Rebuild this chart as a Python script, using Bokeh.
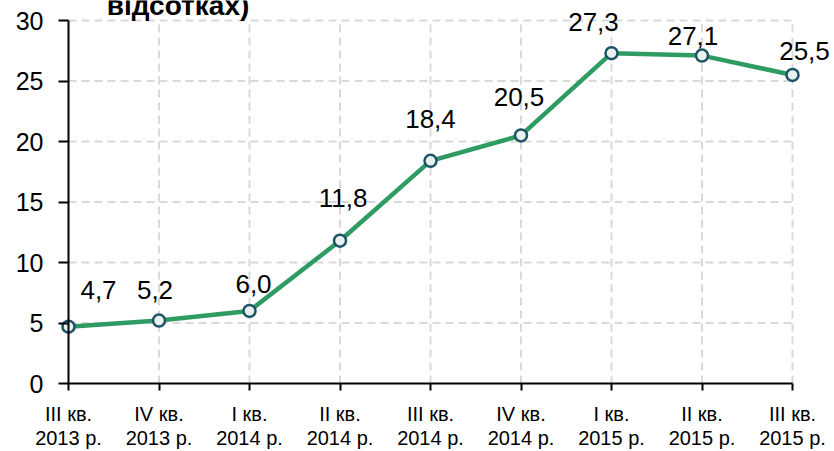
from bokeh.plotting import figure
from bokeh.models import LinearAxis, FixedTicker, Range1d, ColumnDataSource
from bokeh.core.properties import value
from bokeh.embed import file_html
from bokeh.resources import INLINE

# ---- data ----
quarters = ["III кв.\n2013 р.", "IV кв.\n2013 р.", "I кв.\n2014 р.", "II кв.\n2014 р.",
            "III кв.\n2014 р.", "IV кв.\n2014 р.", "I кв.\n2015 р.", "II кв.\n2015 р.",
            "III кв.\n2015 р."]
values = [4.7, 5.2, 6.0, 11.8, 18.4, 20.5, 27.3, 27.1, 25.5]
value_labels = ["4,7", "5,2", "6,0", "11,8", "18,4", "20,5", "27,3", "27,1", "25,5"]
y_ticks = [0, 5, 10, 15, 20, 25, 30]
title_text = "відсотках)"

# label nudges (pixels) relative to each point
label_dx = [30, -4, 4, 3, 0, -2, -18, -9, 12]
label_dy = [-37, -31, -27, -43, -42, -38, -31, -20, -24]

# ---- layout ----
W, H = 834, 451
PX_X, X0 = 90.5, 68
PX_Y, Y0 = 12.1, 383
FONT = "Liberation Sans"

xs = list(range(len(values)))
n = len(values) - 1

p = figure(width=W, height=H,
           x_range=Range1d(-X0 / PX_X, n + (W - X0 - n * PX_X) / PX_X),
           y_range=Range1d(-(H - Y0) / PX_Y, Y0 / PX_Y),
           output_backend="svg", toolbar_location=None,
           x_axis_location=None, y_axis_location=None,
           min_border=0, outline_line_color=None)
p.grid.visible = False
p.background_fill_color = "white"
p.border_fill_color = "white"

# grid lines
hy = y_ticks[1:]
p.segment(x0=[0] * len(hy), y0=hy, x1=[n] * len(hy), y1=hy,
          line_color="#d9d9d9", line_width=2, line_dash="8 5", level="underlay")
vx = xs[1:]
p.segment(x0=vx, y0=[0] * len(vx), x1=vx, y1=[y_ticks[-1]] * len(vx),
          line_color="#d9d9d9", line_width=2, line_dash="8 5", level="underlay")

# axes
yaxis = LinearAxis(fixed_location=0, bounds=(y_ticks[0], y_ticks[-1]),
                   ticker=FixedTicker(ticks=y_ticks))
yaxis.axis_line_width = 2
yaxis.axis_line_color = "black"
yaxis.major_tick_line_width = 2
yaxis.major_tick_out = 10
yaxis.major_tick_in = 0
yaxis.minor_tick_out = 0
yaxis.minor_tick_in = 0
yaxis.major_label_standoff = 15
yaxis.major_label_text_font = FONT
yaxis.major_label_text_font_size = "25px"
yaxis.major_label_text_color = "black"
p.add_layout(yaxis, "left")

xaxis = LinearAxis(fixed_location=0, bounds=(0, n),
                   ticker=FixedTicker(ticks=xs),
                   major_label_overrides={i: q for i, q in enumerate(quarters)})
xaxis.axis_line_width = 2
xaxis.axis_line_color = "black"
xaxis.major_tick_line_width = 2
xaxis.major_tick_out = 7
xaxis.major_tick_in = 0
xaxis.minor_tick_out = 0
xaxis.minor_tick_in = 0
xaxis.major_label_standoff = 12
xaxis.major_label_text_font = FONT
xaxis.major_label_text_font_size = "20px"
xaxis.major_label_text_color = "black"
xaxis.major_label_text_line_height = 1.1
p.add_layout(xaxis, "below")

src = ColumnDataSource(dict(x=xs, y=values, lab=value_labels, dx=label_dx, dy=label_dy))

p.line("x", "y", source=src, line_color="#2e9b63", line_width=4.5)
p.scatter("x", "y", source=src, size=12, fill_color="#e8f1ec",
          line_color="#1e5468", line_width=2.5)
p.text("x", "y", text="lab", source=src, x_offset="dx", y_offset="dy",
       text_align="center", text_baseline="middle",
       text_font=value(FONT), text_font_size="26px", text_color="black")

# title fragment (its upper line is cut off in the original)
p.text(x=[(177.5 - X0) / PX_X], y=[(Y0 - 5) / PX_Y], text=[title_text],
       text_align="center", text_baseline="alphabetic",
       text_font=value(FONT), text_font_size="28px", text_font_style="bold",
       text_color="black")

open("out.html", "w").write(file_html(p, INLINE))
